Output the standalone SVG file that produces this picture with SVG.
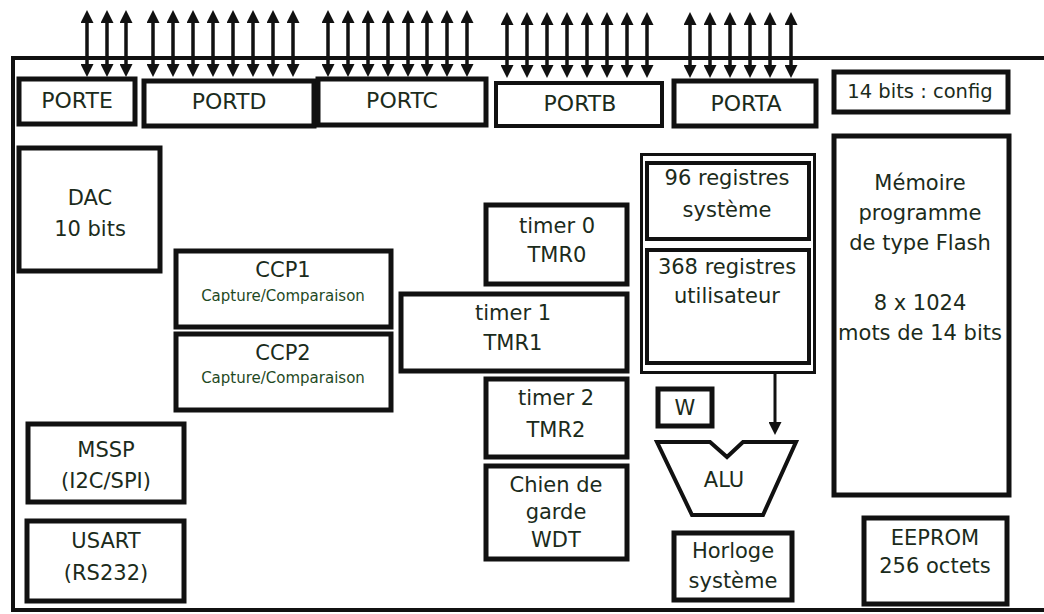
<svg xmlns="http://www.w3.org/2000/svg" width="1044" height="614" viewBox="0 0 1044 614">
<style>
  .box{fill:#fff;stroke:#111;stroke-width:5}
  .thin{fill:#fff;stroke:#111;stroke-width:3}
  .t{font-family:"DejaVu Sans","Liberation Sans",sans-serif;font-size:21px;fill:#1b2b1b;text-anchor:middle}
  .p{font-family:"DejaVu Sans","Liberation Sans",sans-serif;font-size:22px;fill:#1b2b1b;text-anchor:middle}
  .s{font-family:"DejaVu Sans","Liberation Sans",sans-serif;font-size:15px;fill:#1f4a1f;text-anchor:middle}
  .io{stroke:#111;stroke-width:3.5;fill:none;marker-start:url(#ah);marker-end:url(#ah)}
  .cn{stroke:#111;stroke-width:3;fill:none;marker-end:url(#ah)}
</style>
<defs>
  <marker id="ah" markerUnits="userSpaceOnUse" markerWidth="13" markerHeight="13" refX="0" refY="6.5" orient="auto-start-reverse">
    <path d="M0,0 L13,6.5 L0,13 Z" fill="#111"/>
  </marker>
</defs>
<rect width="1044" height="614" fill="#fff"/>
<path id="frame" d="M1050,58 H13 V610 H1050" fill="none" stroke="#111" stroke-width="4"/>

<g id="connectors">
  <g id="io-porte">
    <path class="io" d="M87,23 V64"/><path class="io" d="M107,23 V64"/><path class="io" d="M126,23 V64"/>
  </g>
  <g id="io-portd">
    <path class="io" d="M153,23 V64"/><path class="io" d="M173,23 V64"/><path class="io" d="M193,23 V64"/><path class="io" d="M213,23 V64"/>
    <path class="io" d="M233,23 V64"/><path class="io" d="M253,23 V64"/><path class="io" d="M273,23 V64"/><path class="io" d="M293,23 V64"/>
  </g>
  <g id="io-portc">
    <path class="io" d="M328,23 V64"/><path class="io" d="M348,23 V64"/><path class="io" d="M368,23 V64"/><path class="io" d="M388,23 V64"/>
    <path class="io" d="M408,23 V64"/><path class="io" d="M427,23 V64"/><path class="io" d="M447,23 V64"/><path class="io" d="M467,23 V64"/>
  </g>
  <g id="io-portb">
    <path class="io" d="M507,25 V65"/><path class="io" d="M527,25 V65"/><path class="io" d="M547,25 V65"/><path class="io" d="M567,25 V65"/>
    <path class="io" d="M587,25 V65"/><path class="io" d="M607,25 V65"/><path class="io" d="M627,25 V65"/><path class="io" d="M647,25 V65"/>
  </g>
  <g id="io-porta">
    <path class="io" d="M690,25 V65"/><path class="io" d="M710,25 V65"/><path class="io" d="M730,25 V65"/>
    <path class="io" d="M750,25 V65"/><path class="io" d="M770,25 V65"/><path class="io" d="M791,25 V65"/>
  </g>
  <path id="reg-alu" class="cn" d="M775,373 V422"/>
</g>

<g id="porte"><rect class="box" x="19" y="79" width="116" height="45"/><text class="p" x="77" y="108">PORTE</text></g>
<g id="portd"><rect class="box" x="144" y="81" width="170" height="45"/><text class="p" x="229" y="109">PORTD</text></g>
<g id="portc"><rect class="box" x="318" y="79" width="168" height="46"/><text class="p" x="402" y="108">PORTC</text></g>
<g id="portb"><rect class="box" x="496" y="83" width="166" height="43" style="stroke-width:4"/><text class="p" x="580" y="111">PORTB</text></g>
<g id="porta"><rect class="box" x="674" y="81" width="142" height="45"/><text class="p" x="746" y="111">PORTA</text></g>
<g id="config"><rect class="box" x="834" y="72" width="174" height="40"/><text class="t" x="920" y="98" style="font-size:19.5px">14 bits : config</text></g>

<g id="dac"><rect class="box" x="19" y="148" width="141" height="123"/><text class="t" x="90" y="205">DAC</text><text class="t" x="90" y="236">10 bits</text></g>
<g id="ccp1"><rect class="box" x="176" y="251" width="215" height="76"/><text class="t" x="283" y="277">CCP1</text><text class="s" x="283" y="301">Capture/Comparaison</text></g>
<g id="ccp2"><rect class="box" x="176" y="334" width="215" height="76"/><text class="t" x="283" y="360">CCP2</text><text class="s" x="283" y="383">Capture/Comparaison</text></g>

<g id="timer0"><rect class="box" x="486" y="205" width="141" height="79"/><text class="t" x="557" y="233">timer 0</text><text class="t" x="557" y="262">TMR0</text></g>
<g id="timer1"><rect class="box" x="401" y="294" width="226" height="77"/><text class="t" x="513" y="320">timer 1</text><text class="t" x="513" y="350">TMR1</text></g>
<g id="timer2"><rect class="box" x="486" y="379" width="141" height="78"/><text class="t" x="556" y="405">timer 2</text><text class="t" x="556" y="437">TMR2</text></g>
<g id="wdt"><rect class="box" x="486" y="466" width="141" height="93"/><text class="t" x="556" y="492">Chien de</text><text class="t" x="556" y="519">garde</text><text class="t" x="556" y="547">WDT</text></g>

<g id="mssp"><rect class="box" x="28" y="424" width="156" height="78"/><text class="t" x="106" y="457">MSSP</text><text class="t" x="106" y="488">(I2C/SPI)</text></g>
<g id="usart"><rect class="box" x="27" y="521" width="157" height="80"/><text class="t" x="106" y="548">USART</text><text class="t" x="106" y="580">(RS232)</text></g>

<g id="registres">
  <rect class="thin" x="641.5" y="154.5" width="173" height="218"/>
  <g id="reg-sys"><rect class="box" x="647" y="163" width="162" height="76" style="stroke-width:4"/><text class="t" x="727" y="185">96 registres</text><text class="t" x="727" y="217">système</text></g>
  <g id="reg-user"><rect class="box" x="647" y="250" width="162" height="113" style="stroke-width:4"/><text class="t" x="727" y="274">368 registres</text><text class="t" x="727" y="303">utilisateur</text></g>
</g>

<g id="flash"><rect class="box" x="834" y="136" width="175" height="359"/>
  <text class="t" x="920" y="190">Mémoire</text><text class="t" x="920" y="220">programme</text><text class="t" x="920" y="250">de type Flash</text>
  <text class="t" x="920" y="310">8 x 1024</text><text class="t" x="920" y="340">mots de 14 bits</text></g>

<g id="w"><rect class="box" x="658" y="389" width="54" height="37"/><text class="t" x="685" y="415">W</text></g>
<g id="alu"><path d="M657,442 H710 L727,457 L743,442 H796 L763,515 H692 Z" fill="#fff" stroke="#111" stroke-width="4" stroke-linejoin="miter"/><text class="t" x="724" y="487">ALU</text></g>
<g id="horloge"><rect class="box" x="674" y="533" width="118" height="67"/><text class="t" x="733" y="558">Horloge</text><text class="t" x="733" y="588">système</text></g>
<g id="eeprom"><rect class="box" x="864" y="518" width="143" height="86"/><text class="t" x="935" y="545">EEPROM</text><text class="t" x="935" y="573">256 octets</text></g>
</svg>
